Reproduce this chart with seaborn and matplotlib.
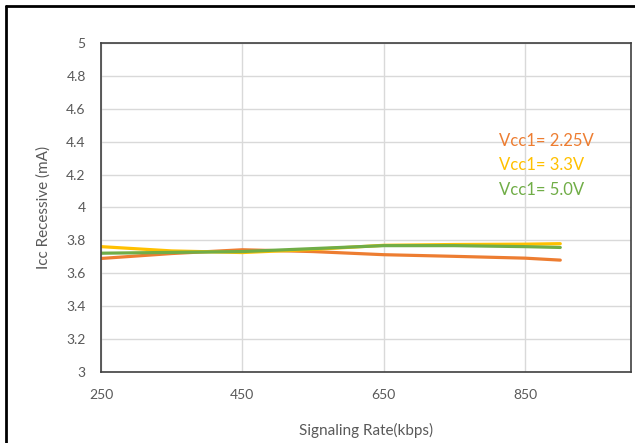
import matplotlib
matplotlib.use("Agg")
import matplotlib.pyplot as plt
import seaborn as sns
import pandas as pd
from matplotlib.lines import Line2D

# Valores
rate_kbps = [250, 350, 450, 550, 650, 750, 850, 900]
icc_225 = [3.690, 3.720, 3.743, 3.732, 3.713, 3.703, 3.692, 3.680]
icc_33 = [3.762, 3.736, 3.726, 3.745, 3.770, 3.775, 3.777, 3.780]
icc_50 = [3.722, 3.727, 3.732, 3.750, 3.768, 3.768, 3.762, 3.757]

series_names = ["Vcc1= 2.25V", "Vcc1= 3.3V", "Vcc1= 5.0V"]
series_colors = ["#ED7D31", "#FFC000", "#70AD47"]
x_ticks = [250, 450, 650, 850]
y_ticks = [3, 3.2, 3.4, 3.6, 3.8, 4, 4.2, 4.4, 4.6, 4.8, 5]

df = pd.DataFrame({
    "rate": rate_kbps * 3,
    "icc": icc_225 + icc_33 + icc_50,
    "serie": sum([[n] * len(rate_kbps) for n in series_names], []),
})

sns.set_style("white")
plt.rcParams["font.family"] = ["Lato", "DejaVu Sans"]

fig = plt.figure(figsize=(6.35, 4.43), dpi=100)
ax = fig.add_axes([0.159, 0.1603, 0.8346, 0.7427])

sns.lineplot(
    data=df, x="rate", y="icc", hue="serie",
    palette=series_colors, linewidth=2.3, legend=False, ax=ax
)

ax.set_xlim(250, 1000)
ax.set_ylim(3, 5)
ax.set_xticks(x_ticks)
ax.set_yticks(y_ticks)
ax.set_yticklabels([f"{v:g}" for v in y_ticks])
ax.grid(True, color="#d9d9d9", linewidth=1)
ax.set_axisbelow(True)
ax.tick_params(axis="y", length=0, labelsize=10, colors="#595959", pad=11)
ax.tick_params(axis="x", length=0, labelsize=10, colors="#595959", pad=12)

for sp in ax.spines.values():
    sp.set_color("#404040")
    sp.set_linewidth(1.2)

ax.set_xlabel("Signaling Rate(kbps)", fontsize=11, color="#595959", labelpad=16)
ax.set_ylabel("Icc Recessive (mA)", fontsize=11, color="#595959", labelpad=11)

# Rótulos das séries
label_y = [4.404, 4.258, 4.106]
for nome, cor, yy in zip(series_names, series_colors, label_y):
    ax.text(813, yy, nome, color=cor, fontsize=12, va="center", ha="left")

# Moldura externa (só topo e esquerda)
x0 = 6 / 635
y0 = 1 - 6 / 443
fig.add_artist(Line2D([x0, x0], [0, y0], transform=fig.transFigure, color="black", linewidth=2))
fig.add_artist(Line2D([x0, 1], [y0, y0], transform=fig.transFigure, color="black", linewidth=2))

fig.savefig("out.png", dpi=100)
